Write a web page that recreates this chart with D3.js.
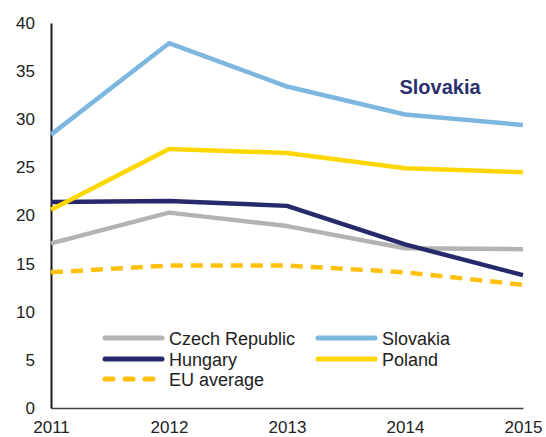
<!DOCTYPE html>
<html><head><meta charset="utf-8">
<script src="https://cdn.jsdelivr.net/npm/d3@7"></script>
<style>body{margin:0;background:#fff}svg{display:block}text{font-family:"Liberation Sans",Arial,sans-serif}</style>
</head><body><svg id="c" width="546" height="437"></svg>
<script>
const years = [2011, 2012, 2013, 2014, 2015];
const czech = [17.1, 20.3, 18.9, 16.6, 16.5];
const slovakia = [28.4, 37.9, 33.4, 30.5, 29.4];
const hungary = [21.4, 21.5, 21.0, 17.0, 13.8];
const poland = [20.6, 26.9, 26.5, 24.9, 24.5];
const euAverage = [14.1, 14.8, 14.8, 14.1, 12.8];
const yTicks = [0, 5, 10, 15, 20, 25, 30, 35, 40];
const seriesNames = ["Czech Republic", "Slovakia", "Hungary", "Poland", "EU average"];

const series = [
  {name: seriesNames[0], values: czech, color: "#b3b3b3", dash: null},
  {name: seriesNames[1], values: slovakia, color: "#7db7e0", dash: null},
  {name: seriesNames[2], values: hungary, color: "#262a6a", dash: null},
  {name: seriesNames[3], values: poland, color: "#ffd700", dash: null},
  {name: seriesNames[4], values: euAverage, color: "#ffc10e", dash: "12,8"}
];

const svg = d3.select("#c");
const x = d3.scalePoint().domain(years).range([51, 523]);
const y = d3.scaleLinear().domain([0, 40]).range([408, 23]);

const yAxis = svg.append("g").attr("transform", "translate(51,0)")
  .call(d3.axisLeft(y).tickValues(yTicks).tickSize(0).tickPadding(16));
yAxis.select(".domain").attr("stroke", "#1a1a1a").attr("stroke-width", 2);
yAxis.selectAll("text").attr("font-size", 17).attr("fill", "#222")
  .attr("font-family", "Liberation Sans, Arial, sans-serif");

const xAxis = svg.append("g").attr("transform", "translate(0,408)")
  .call(d3.axisBottom(x).tickSize(0).tickPadding(13).tickFormat(d3.format("d")));
xAxis.select(".domain").attr("stroke", "#444").attr("stroke-width", 1.5);
xAxis.selectAll("text").attr("font-size", 17).attr("fill", "#222")
  .attr("font-family", "Liberation Sans, Arial, sans-serif");

const line = d3.line().x((d, i) => x(years[i])).y(d => y(d)).curve(d3.curveLinear);

const order = [0, 2, 1, 3, 4];
order.forEach(k => {
  const s = series[k];
  svg.append("path").attr("d", line(s.values))
    .attr("fill", "none").attr("stroke", s.color).attr("stroke-width", 4.5)
    .attr("stroke-linejoin", "round")
    .attr("stroke-dasharray", s.dash);
});

svg.append("text").attr("x", 440).attr("y", 94).attr("text-anchor", "middle")
  .attr("font-size", 20).attr("font-weight", "bold").attr("fill", "#2b2f6e").text("Slovakia");

const legendPos = [
  {s: 0, lx: 103, ly: 338}, {s: 1, lx: 316, ly: 338},
  {s: 2, lx: 103, ly: 359}, {s: 3, lx: 316, ly: 359},
  {s: 4, lx: 103, ly: 379}
];
legendPos.forEach(p => {
  const s = series[p.s];
  svg.append("line").attr("x1", p.lx + 2).attr("x2", p.lx + 59).attr("y1", p.ly).attr("y2", p.ly)
    .attr("stroke", s.color).attr("stroke-width", 5)
    .attr("stroke-linecap", "round")
    .attr("stroke-dasharray", s.dash ? "8,12" : null);
  svg.append("text").attr("x", p.lx + 66).attr("y", p.ly + 6.5)
    .attr("font-size", 18).attr("fill", "#222").text(s.name);
});
</script></body></html>
